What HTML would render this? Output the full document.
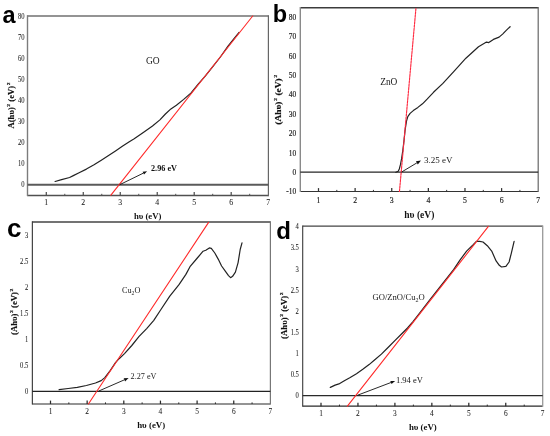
<!DOCTYPE html>
<html><head><meta charset="utf-8"><style>
html,body{margin:0;padding:0;background:#fff;}
body{width:550px;height:436px;overflow:hidden;}
svg{display:block;font-family:"Liberation Serif", serif;will-change:transform;}
</style></head><body>
<svg width="550" height="436" viewBox="0 0 550 436">
<rect width="550" height="436" fill="#fff"/>
<line x1="27.5" y1="16" x2="268.4" y2="16" stroke="#707070" stroke-width="1.7"/>
<line x1="27.5" y1="195.4" x2="268.4" y2="195.4" stroke="#505050" stroke-width="1.5"/>
<line x1="27.5" y1="15.15" x2="27.5" y2="196.15" stroke="#7c7c7c" stroke-width="1.4"/>
<line x1="268.4" y1="15.15" x2="268.4" y2="196.15" stroke="#666" stroke-width="1.2"/>
<line x1="27.5" y1="184.8" x2="268.4" y2="184.8" stroke="#5a5a5a" stroke-width="2.0"/>
<line x1="46.3" y1="195.4" x2="46.3" y2="192" stroke="#505050" stroke-width="1.25"/>
<line x1="64.79" y1="195.4" x2="64.79" y2="193.8" stroke="#505050" stroke-width="1"/>
<line x1="83.28" y1="195.4" x2="83.28" y2="192" stroke="#505050" stroke-width="1.25"/>
<line x1="101.77" y1="195.4" x2="101.77" y2="193.8" stroke="#505050" stroke-width="1"/>
<line x1="120.26" y1="195.4" x2="120.26" y2="192" stroke="#505050" stroke-width="1.25"/>
<line x1="138.75" y1="195.4" x2="138.75" y2="193.8" stroke="#505050" stroke-width="1"/>
<line x1="157.24" y1="195.4" x2="157.24" y2="192" stroke="#505050" stroke-width="1.25"/>
<line x1="175.73" y1="195.4" x2="175.73" y2="193.8" stroke="#505050" stroke-width="1"/>
<line x1="194.22" y1="195.4" x2="194.22" y2="192" stroke="#505050" stroke-width="1.25"/>
<line x1="212.71" y1="195.4" x2="212.71" y2="193.8" stroke="#505050" stroke-width="1"/>
<line x1="231.2" y1="195.4" x2="231.2" y2="192" stroke="#505050" stroke-width="1.25"/>
<line x1="249.69" y1="195.4" x2="249.69" y2="193.8" stroke="#505050" stroke-width="1"/>
<text transform="translate(46.3,205.16) scale(0.87,1)" font-size="8.97" text-anchor="middle" fill="#222" stroke="#222" stroke-width="0.05">1</text>
<text transform="translate(83.28,205.16) scale(0.87,1)" font-size="8.97" text-anchor="middle" fill="#222" stroke="#222" stroke-width="0.05">2</text>
<text transform="translate(120.26,205.16) scale(0.87,1)" font-size="8.97" text-anchor="middle" fill="#222" stroke="#222" stroke-width="0.05">3</text>
<text transform="translate(157.24,205.16) scale(0.87,1)" font-size="8.97" text-anchor="middle" fill="#222" stroke="#222" stroke-width="0.05">4</text>
<text transform="translate(194.22,205.16) scale(0.87,1)" font-size="8.97" text-anchor="middle" fill="#222" stroke="#222" stroke-width="0.05">5</text>
<text transform="translate(231.2,205.16) scale(0.87,1)" font-size="8.97" text-anchor="middle" fill="#222" stroke="#222" stroke-width="0.05">6</text>
<text transform="translate(268.18,205.16) scale(0.87,1)" font-size="8.97" text-anchor="middle" fill="#222" stroke="#222" stroke-width="0.05">7</text>
<text transform="translate(24.5,187.3) scale(0.87,1)" font-size="7.59" text-anchor="end" fill="#222" stroke="#222" stroke-width="0.05">0</text>
<text transform="translate(24.5,166.2) scale(0.87,1)" font-size="7.59" text-anchor="end" fill="#222" stroke="#222" stroke-width="0.05">10</text>
<text transform="translate(24.5,145.1) scale(0.87,1)" font-size="7.59" text-anchor="end" fill="#222" stroke="#222" stroke-width="0.05">20</text>
<text transform="translate(24.5,124) scale(0.87,1)" font-size="7.59" text-anchor="end" fill="#222" stroke="#222" stroke-width="0.05">30</text>
<text transform="translate(24.5,102.9) scale(0.87,1)" font-size="7.59" text-anchor="end" fill="#222" stroke="#222" stroke-width="0.05">40</text>
<text transform="translate(24.5,81.8) scale(0.87,1)" font-size="7.59" text-anchor="end" fill="#222" stroke="#222" stroke-width="0.05">50</text>
<text transform="translate(24.5,60.7) scale(0.87,1)" font-size="7.59" text-anchor="end" fill="#222" stroke="#222" stroke-width="0.05">60</text>
<text transform="translate(24.5,39.6) scale(0.87,1)" font-size="7.59" text-anchor="end" fill="#222" stroke="#222" stroke-width="0.05">70</text>
<text transform="translate(24.5,18.5) scale(0.87,1)" font-size="7.59" text-anchor="end" fill="#222" stroke="#222" stroke-width="0.05">80</text>
<text x="2.4" y="22.9" font-family='"Liberation Sans", sans-serif' font-weight="bold" font-size="23.5" fill="#000">a</text>
<text class="ylab" transform="translate(14.3,105.5) rotate(-90) scale(1.17,1)" x="0" y="0" font-size="7.4" font-weight="bold" text-anchor="middle" fill="#111" stroke="#111" stroke-width="0.15">A(h&#965;)<tspan font-size="64%" dx="0.5" dy="-4.0">2</tspan><tspan dy="4.0"> (eV)</tspan><tspan font-size="64%" dx="0.5" dy="-4.0">2</tspan></text>
<text x="147.6" y="218.57" font-size="8.7" font-weight="bold" text-anchor="middle" fill="#111">h&#965; (eV)</text>
<polyline points="55.1,181.5 61.6,179.6 69.6,177.5 73.3,175.6 79.1,172.7 86.4,169.1 93.6,165 100.9,160.4 108.2,155.7 115.5,150.9 122.7,146.1 129.3,141.7 134.2,138.8 143.3,132.4 152.5,126 159.9,119.9 165.4,114 170.9,108.9 176.4,105.2 183.7,99.4 191.1,92.9 198.4,83.8 205,76.4 212,67.6 220,57.5 228,46.2 234,38.6 239.1,32.4" fill="none" stroke="#222" stroke-width="1.2" stroke-linejoin="round" stroke-linecap="round"/>
<polyline points="110.9,195.2 252.7,16" fill="none" stroke="#ff2a2a" stroke-width="1.1" stroke-linejoin="round" stroke-linecap="round"/>
<line x1="119.5" y1="184.8" x2="143.33" y2="173.15" stroke="#111" stroke-width="0.9"/>
<polygon points="147.1,171.3 144.03,174.58 142.62,171.71" fill="#111"/>
<text x="151" y="170.7" font-size="8.2" font-weight="bold" text-anchor="start" fill="#111">2.96 eV</text>
<text x="146" y="64" font-size="9.5" font-weight="normal" text-anchor="start" fill="#1a1a1a">GO</text>
<line x1="300.3" y1="7.7" x2="538.2" y2="7.7" stroke="#3c3c3c" stroke-width="1.5"/>
<line x1="300.3" y1="191.5" x2="538.2" y2="191.5" stroke="#333" stroke-width="1.2"/>
<line x1="300.3" y1="6.95" x2="300.3" y2="192.1" stroke="#8a8a8a" stroke-width="1.4"/>
<line x1="538.2" y1="6.95" x2="538.2" y2="192.1" stroke="#666" stroke-width="1.2"/>
<line x1="300.3" y1="172.2" x2="538.2" y2="172.2" stroke="#262626" stroke-width="1.2"/>
<line x1="318.5" y1="191.5" x2="318.5" y2="188.1" stroke="#333" stroke-width="1.25"/>
<line x1="336.81" y1="191.5" x2="336.81" y2="189.9" stroke="#333" stroke-width="1"/>
<line x1="355.12" y1="191.5" x2="355.12" y2="188.1" stroke="#333" stroke-width="1.25"/>
<line x1="373.43" y1="191.5" x2="373.43" y2="189.9" stroke="#333" stroke-width="1"/>
<line x1="391.74" y1="191.5" x2="391.74" y2="188.1" stroke="#333" stroke-width="1.25"/>
<line x1="410.05" y1="191.5" x2="410.05" y2="189.9" stroke="#333" stroke-width="1"/>
<line x1="428.36" y1="191.5" x2="428.36" y2="188.1" stroke="#333" stroke-width="1.25"/>
<line x1="446.67" y1="191.5" x2="446.67" y2="189.9" stroke="#333" stroke-width="1"/>
<line x1="464.98" y1="191.5" x2="464.98" y2="188.1" stroke="#333" stroke-width="1.25"/>
<line x1="483.29" y1="191.5" x2="483.29" y2="189.9" stroke="#333" stroke-width="1"/>
<line x1="501.6" y1="191.5" x2="501.6" y2="188.1" stroke="#333" stroke-width="1.25"/>
<line x1="519.91" y1="191.5" x2="519.91" y2="189.9" stroke="#333" stroke-width="1"/>
<text transform="translate(318.5,202.56) scale(0.87,1)" font-size="8.97" text-anchor="middle" fill="#222" stroke="#222" stroke-width="0.18">1</text>
<text transform="translate(355.12,202.56) scale(0.87,1)" font-size="8.97" text-anchor="middle" fill="#222" stroke="#222" stroke-width="0.18">2</text>
<text transform="translate(391.74,202.56) scale(0.87,1)" font-size="8.97" text-anchor="middle" fill="#222" stroke="#222" stroke-width="0.18">3</text>
<text transform="translate(428.36,202.56) scale(0.87,1)" font-size="8.97" text-anchor="middle" fill="#222" stroke="#222" stroke-width="0.18">4</text>
<text transform="translate(464.98,202.56) scale(0.87,1)" font-size="8.97" text-anchor="middle" fill="#222" stroke="#222" stroke-width="0.18">5</text>
<text transform="translate(501.6,202.56) scale(0.87,1)" font-size="8.97" text-anchor="middle" fill="#222" stroke="#222" stroke-width="0.18">6</text>
<text transform="translate(538.22,202.56) scale(0.87,1)" font-size="8.97" text-anchor="middle" fill="#222" stroke="#222" stroke-width="0.18">7</text>
<text transform="translate(296.1,194.4) scale(0.87,1)" font-size="8.51" text-anchor="end" fill="#222" stroke="#222" stroke-width="0.18">-10</text>
<text transform="translate(296.1,175.01) scale(0.87,1)" font-size="8.51" text-anchor="end" fill="#222" stroke="#222" stroke-width="0.18">0</text>
<text transform="translate(296.1,155.62) scale(0.87,1)" font-size="8.51" text-anchor="end" fill="#222" stroke="#222" stroke-width="0.18">10</text>
<text transform="translate(296.1,136.23) scale(0.87,1)" font-size="8.51" text-anchor="end" fill="#222" stroke="#222" stroke-width="0.18">20</text>
<text transform="translate(296.1,116.84) scale(0.87,1)" font-size="8.51" text-anchor="end" fill="#222" stroke="#222" stroke-width="0.18">30</text>
<text transform="translate(296.1,97.45) scale(0.87,1)" font-size="8.51" text-anchor="end" fill="#222" stroke="#222" stroke-width="0.18">40</text>
<text transform="translate(296.1,78.06) scale(0.87,1)" font-size="8.51" text-anchor="end" fill="#222" stroke="#222" stroke-width="0.18">50</text>
<text transform="translate(296.1,58.67) scale(0.87,1)" font-size="8.51" text-anchor="end" fill="#222" stroke="#222" stroke-width="0.18">60</text>
<text transform="translate(296.1,39.28) scale(0.87,1)" font-size="8.51" text-anchor="end" fill="#222" stroke="#222" stroke-width="0.18">70</text>
<text transform="translate(296.1,19.89) scale(0.87,1)" font-size="8.51" text-anchor="end" fill="#222" stroke="#222" stroke-width="0.18">80</text>
<text x="272.8" y="22.2" font-family='"Liberation Sans", sans-serif' font-weight="bold" font-size="23.5" fill="#000">b</text>
<text class="ylab" transform="translate(281.4,99.7) rotate(-90) scale(1.27,1)" x="0" y="0" font-size="7.4" font-weight="bold" text-anchor="middle" fill="#111" stroke="#111" stroke-width="0.15">(Ah&#965;)<tspan font-size="64%" dx="0.5" dy="-4.0">2</tspan><tspan dy="4.0"> (eV)</tspan><tspan font-size="64%" dx="0.5" dy="-4.0">2</tspan></text>
<text x="419.3" y="217.53" font-size="9.5" font-weight="bold" text-anchor="middle" fill="#111">h&#965; (eV)</text>
<polyline points="395.9,172.3 398.2,171.3 399.3,169 400.5,164.4 401.6,158.7 402.8,150.6 403.9,141.5 405.1,130 406.5,121.2 407.8,116.6 410.1,113.4 413.3,110.6 417.9,107.4 422.5,103.8 427.1,99.2 433.5,92.3 442.9,83.4 454.4,70.8 465.9,58.2 478.5,46.7 486.5,42.1 488.8,42.6 493.4,39.4 499.1,37.1 502.6,34.1 506,30.6 510.1,26.7" fill="none" stroke="#222" stroke-width="1.2" stroke-linejoin="round" stroke-linecap="round"/>
<polyline points="399.45,191.5 416,7.7" fill="none" stroke="#ff2a40" stroke-width="1.15" stroke-linejoin="round" stroke-linecap="round" stroke-dasharray="2.2,1.1"/>
<line x1="401.5" y1="172.1" x2="416.88" y2="162.87" stroke="#111" stroke-width="0.9"/>
<polygon points="421,160.4 417.81,164.41 415.96,161.33" fill="#111"/>
<text x="424" y="163.2" font-size="9.0" font-weight="normal" text-anchor="start" fill="#222">3.25 eV</text>
<text x="380.2" y="85" font-size="9.4" font-weight="normal" text-anchor="start" fill="#1a1a1a">ZnO</text>
<line x1="32.35" y1="222" x2="270.4" y2="222" stroke="#444" stroke-width="1.4"/>
<line x1="32.35" y1="404" x2="270.4" y2="404" stroke="#2a2a2a" stroke-width="1.2"/>
<line x1="32.35" y1="221.3" x2="32.35" y2="404.6" stroke="#333" stroke-width="1.1"/>
<line x1="270.4" y1="221.3" x2="270.4" y2="404.6" stroke="#777" stroke-width="1.2"/>
<line x1="32.35" y1="391.4" x2="270.4" y2="391.4" stroke="#222" stroke-width="1.1"/>
<line x1="50.5" y1="404" x2="50.5" y2="400.6" stroke="#2a2a2a" stroke-width="1.25"/>
<line x1="68.83" y1="404" x2="68.83" y2="402.4" stroke="#2a2a2a" stroke-width="1"/>
<line x1="87.15" y1="404" x2="87.15" y2="400.6" stroke="#2a2a2a" stroke-width="1.25"/>
<line x1="105.47" y1="404" x2="105.47" y2="402.4" stroke="#2a2a2a" stroke-width="1"/>
<line x1="123.8" y1="404" x2="123.8" y2="400.6" stroke="#2a2a2a" stroke-width="1.25"/>
<line x1="142.12" y1="404" x2="142.12" y2="402.4" stroke="#2a2a2a" stroke-width="1"/>
<line x1="160.45" y1="404" x2="160.45" y2="400.6" stroke="#2a2a2a" stroke-width="1.25"/>
<line x1="178.78" y1="404" x2="178.78" y2="402.4" stroke="#2a2a2a" stroke-width="1"/>
<line x1="197.1" y1="404" x2="197.1" y2="400.6" stroke="#2a2a2a" stroke-width="1.25"/>
<line x1="215.42" y1="404" x2="215.42" y2="402.4" stroke="#2a2a2a" stroke-width="1"/>
<line x1="233.75" y1="404" x2="233.75" y2="400.6" stroke="#2a2a2a" stroke-width="1.25"/>
<line x1="252.07" y1="404" x2="252.07" y2="402.4" stroke="#2a2a2a" stroke-width="1"/>
<text transform="translate(50.5,413.81) scale(0.87,1)" font-size="8.51" text-anchor="middle" fill="#222" stroke="#222" stroke-width="0.05">1</text>
<text transform="translate(87.15,413.81) scale(0.87,1)" font-size="8.51" text-anchor="middle" fill="#222" stroke="#222" stroke-width="0.05">2</text>
<text transform="translate(123.8,413.81) scale(0.87,1)" font-size="8.51" text-anchor="middle" fill="#222" stroke="#222" stroke-width="0.05">3</text>
<text transform="translate(160.45,413.81) scale(0.87,1)" font-size="8.51" text-anchor="middle" fill="#222" stroke="#222" stroke-width="0.05">4</text>
<text transform="translate(197.1,413.81) scale(0.87,1)" font-size="8.51" text-anchor="middle" fill="#222" stroke="#222" stroke-width="0.05">5</text>
<text transform="translate(233.75,413.81) scale(0.87,1)" font-size="8.51" text-anchor="middle" fill="#222" stroke="#222" stroke-width="0.05">6</text>
<text transform="translate(270.4,413.81) scale(0.87,1)" font-size="8.51" text-anchor="middle" fill="#222" stroke="#222" stroke-width="0.05">7</text>
<text transform="translate(28.35,394.4) scale(0.87,1)" font-size="7.59" text-anchor="end" fill="#222" stroke="#222" stroke-width="0.05">0</text>
<text transform="translate(28.35,368.3) scale(0.87,1)" font-size="7.59" text-anchor="end" fill="#222" stroke="#222" stroke-width="0.05">0.5</text>
<text transform="translate(28.35,342.2) scale(0.87,1)" font-size="7.59" text-anchor="end" fill="#222" stroke="#222" stroke-width="0.05">1</text>
<text transform="translate(28.35,316.1) scale(0.87,1)" font-size="7.59" text-anchor="end" fill="#222" stroke="#222" stroke-width="0.05">1.5</text>
<text transform="translate(28.35,290) scale(0.87,1)" font-size="7.59" text-anchor="end" fill="#222" stroke="#222" stroke-width="0.05">2</text>
<text transform="translate(28.35,263.9) scale(0.87,1)" font-size="7.59" text-anchor="end" fill="#222" stroke="#222" stroke-width="0.05">2.5</text>
<text transform="translate(28.35,237.8) scale(0.87,1)" font-size="7.59" text-anchor="end" fill="#222" stroke="#222" stroke-width="0.05">3</text>
<text x="7" y="236.9" font-family='"Liberation Sans", sans-serif' font-weight="bold" font-size="26" fill="#000">c</text>
<text class="ylab" transform="translate(16.7,311.8) rotate(-90) scale(1.18,1)" x="0" y="0" font-size="7.4" font-weight="bold" text-anchor="middle" fill="#111" stroke="#111" stroke-width="0.15">(Ah&#965;)<tspan font-size="64%" dx="0.5" dy="-4.0">2</tspan><tspan dy="4.0"> (eV)</tspan><tspan font-size="64%" dx="0.5" dy="-4.0">2</tspan></text>
<text x="151.2" y="427.94" font-size="8.9" font-weight="bold" text-anchor="middle" fill="#111">h&#965; (eV)</text>
<polyline points="59.1,389.6 68.2,388.5 77.3,387.3 86.4,385.5 95.5,383 101.2,380.6 104.8,377.6 110,370.9 115.5,362.7 119.1,358.7 124.5,353.6 131.8,345.5 139.1,336.4 146.9,328.3 153.8,320.3 160.6,310 169.8,296.2 179,284.7 185.9,274.4 190,266.7 196.9,258.5 203.1,251.2 205.8,250.2 209.3,247.9 211.3,248.4 214.8,253 218.2,259.1 221.6,266 225.1,270.8 228.5,275.6 230.6,277.7 232.6,276.3 235.4,272.2 238.1,262.6 240.2,249.5 242,242.9" fill="none" stroke="#222" stroke-width="1.2" stroke-linejoin="round" stroke-linecap="round"/>
<polyline points="88.4,404 208.6,222.4" fill="none" stroke="#ff2a2a" stroke-width="1.1" stroke-linejoin="round" stroke-linecap="round"/>
<line x1="98.6" y1="391.1" x2="124.38" y2="379.84" stroke="#111" stroke-width="0.9"/>
<polygon points="128.6,378 125.06,381.4 123.7,378.28" fill="#111"/>
<text x="130.6" y="379.4" font-size="8.2" font-weight="normal" text-anchor="start" fill="#222">2.27 eV</text>
<text x="122" y="293.2" font-size="8.2" fill="#222">Cu<tspan font-size="70%" dy="2">2</tspan><tspan dy="-2">O</tspan></text>
<line x1="302.7" y1="226.1" x2="542.7" y2="226.1" stroke="#444" stroke-width="1.4"/>
<line x1="302.7" y1="406.2" x2="542.7" y2="406.2" stroke="#2a2a2a" stroke-width="1.3"/>
<line x1="302.7" y1="225.4" x2="302.7" y2="406.85" stroke="#3a3a3a" stroke-width="1.1"/>
<line x1="542.7" y1="225.4" x2="542.7" y2="406.85" stroke="#999" stroke-width="1.3"/>
<line x1="302.7" y1="395.6" x2="542.7" y2="395.6" stroke="#2a2a2a" stroke-width="1.2"/>
<line x1="321" y1="406.2" x2="321" y2="402.8" stroke="#2a2a2a" stroke-width="1.25"/>
<line x1="339.48" y1="406.2" x2="339.48" y2="404.6" stroke="#2a2a2a" stroke-width="1"/>
<line x1="357.95" y1="406.2" x2="357.95" y2="402.8" stroke="#2a2a2a" stroke-width="1.25"/>
<line x1="376.43" y1="406.2" x2="376.43" y2="404.6" stroke="#2a2a2a" stroke-width="1"/>
<line x1="394.9" y1="406.2" x2="394.9" y2="402.8" stroke="#2a2a2a" stroke-width="1.25"/>
<line x1="413.38" y1="406.2" x2="413.38" y2="404.6" stroke="#2a2a2a" stroke-width="1"/>
<line x1="431.85" y1="406.2" x2="431.85" y2="402.8" stroke="#2a2a2a" stroke-width="1.25"/>
<line x1="450.33" y1="406.2" x2="450.33" y2="404.6" stroke="#2a2a2a" stroke-width="1"/>
<line x1="468.8" y1="406.2" x2="468.8" y2="402.8" stroke="#2a2a2a" stroke-width="1.25"/>
<line x1="487.27" y1="406.2" x2="487.27" y2="404.6" stroke="#2a2a2a" stroke-width="1"/>
<line x1="505.75" y1="406.2" x2="505.75" y2="402.8" stroke="#2a2a2a" stroke-width="1.25"/>
<line x1="524.23" y1="406.2" x2="524.23" y2="404.6" stroke="#2a2a2a" stroke-width="1"/>
<text transform="translate(321,416.31) scale(0.87,1)" font-size="8.51" text-anchor="middle" fill="#222" stroke="#222" stroke-width="0.05">1</text>
<text transform="translate(357.95,416.31) scale(0.87,1)" font-size="8.51" text-anchor="middle" fill="#222" stroke="#222" stroke-width="0.05">2</text>
<text transform="translate(394.9,416.31) scale(0.87,1)" font-size="8.51" text-anchor="middle" fill="#222" stroke="#222" stroke-width="0.05">3</text>
<text transform="translate(431.85,416.31) scale(0.87,1)" font-size="8.51" text-anchor="middle" fill="#222" stroke="#222" stroke-width="0.05">4</text>
<text transform="translate(468.8,416.31) scale(0.87,1)" font-size="8.51" text-anchor="middle" fill="#222" stroke="#222" stroke-width="0.05">5</text>
<text transform="translate(505.75,416.31) scale(0.87,1)" font-size="8.51" text-anchor="middle" fill="#222" stroke="#222" stroke-width="0.05">6</text>
<text transform="translate(542.7,416.31) scale(0.87,1)" font-size="8.51" text-anchor="middle" fill="#222" stroke="#222" stroke-width="0.05">7</text>
<text transform="translate(298.9,398.3) scale(0.87,1)" font-size="7.59" text-anchor="end" fill="#222" stroke="#222" stroke-width="0.05">0</text>
<text transform="translate(298.9,377.18) scale(0.87,1)" font-size="7.59" text-anchor="end" fill="#222" stroke="#222" stroke-width="0.05">0.5</text>
<text transform="translate(298.9,356.05) scale(0.87,1)" font-size="7.59" text-anchor="end" fill="#222" stroke="#222" stroke-width="0.05">1</text>
<text transform="translate(298.9,334.93) scale(0.87,1)" font-size="7.59" text-anchor="end" fill="#222" stroke="#222" stroke-width="0.05">1.5</text>
<text transform="translate(298.9,313.8) scale(0.87,1)" font-size="7.59" text-anchor="end" fill="#222" stroke="#222" stroke-width="0.05">2</text>
<text transform="translate(298.9,292.68) scale(0.87,1)" font-size="7.59" text-anchor="end" fill="#222" stroke="#222" stroke-width="0.05">2.5</text>
<text transform="translate(298.9,271.55) scale(0.87,1)" font-size="7.59" text-anchor="end" fill="#222" stroke="#222" stroke-width="0.05">3</text>
<text transform="translate(298.9,250.43) scale(0.87,1)" font-size="7.59" text-anchor="end" fill="#222" stroke="#222" stroke-width="0.05">3.5</text>
<text transform="translate(298.9,229.3) scale(0.87,1)" font-size="7.59" text-anchor="end" fill="#222" stroke="#222" stroke-width="0.05">4</text>
<text x="276.3" y="239.1" font-family='"Liberation Sans", sans-serif' font-weight="bold" font-size="24" fill="#000">d</text>
<text class="ylab" transform="translate(286.8,315.7) rotate(-90) scale(1.18,1)" x="0" y="0" font-size="7.4" font-weight="bold" text-anchor="middle" fill="#111" stroke="#111" stroke-width="0.15">(Ah&#965;)<tspan font-size="64%" dx="0.5" dy="-4.0">2</tspan><tspan dy="4.0"> (eV)</tspan><tspan font-size="64%" dx="0.5" dy="-4.0">2</tspan></text>
<text x="422.8" y="430.3" font-size="8.8" font-weight="bold" text-anchor="middle" fill="#111">h&#965; (eV)</text>
<polyline points="330.3,387.4 335.1,385.1 338.9,383.9 343.9,381 350.2,377.5 356.5,373.7 362.8,369.3 369.1,364.6 375.4,359.2 381.4,354.1 388.3,347.3 395.1,340.4 402,333.5 407.5,328 413,321.6 420,312.6 430,299.5 440,286.8 453.6,269.7 460.1,259.9 466.6,251.1 473.2,244.6 476.4,241.3 479.7,241.3 483,242 487.3,245.7 491.7,251.1 496.1,260.9 499.3,265.3 501.5,267 505.9,266.4 509.1,262 511.3,253.3 514.1,241.3" fill="none" stroke="#222" stroke-width="1.2" stroke-linejoin="round" stroke-linecap="round"/>
<polyline points="347.4,406.2 488.4,226.4" fill="none" stroke="#ff2a2a" stroke-width="1.1" stroke-linejoin="round" stroke-linecap="round"/>
<line x1="357.6" y1="395.2" x2="390.9" y2="382.54" stroke="#111" stroke-width="0.9"/>
<polygon points="395.2,380.9 391.5,384.12 390.3,380.95" fill="#111"/>
<text x="395.9" y="382.6" font-size="8.5" font-weight="normal" text-anchor="start" fill="#111">1.94 eV</text>
<text x="372.5" y="300.4" font-size="8.6" fill="#222">GO/ZnO/Cu<tspan font-size="70%" dy="2">2</tspan><tspan dy="-2">O</tspan></text>
</svg>
</body></html>
